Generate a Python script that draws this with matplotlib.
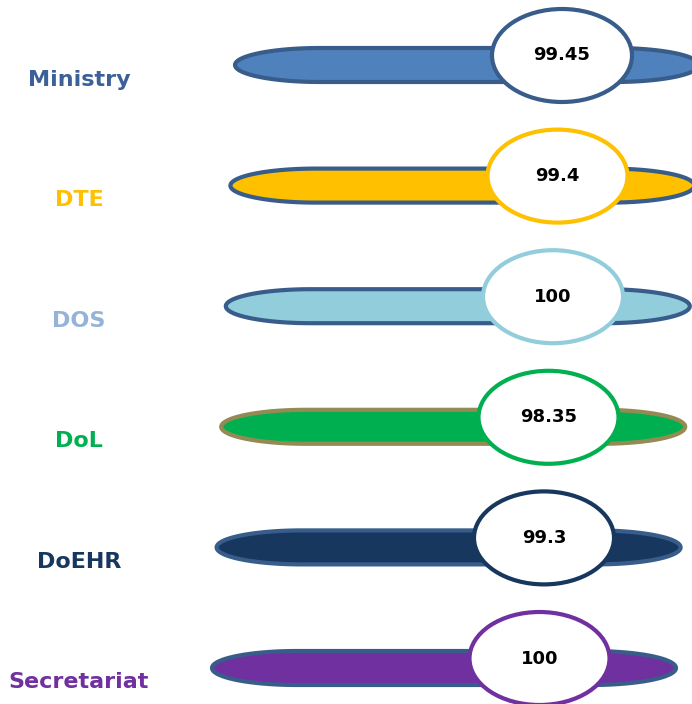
import numpy as np
import matplotlib.pyplot as plt
from matplotlib.patches import Polygon, Ellipse

# data
units = ["Ministry", "DTE", "DOS", "DoL", "DoEHR", "Secretariat"]
scores = [99.45, 99.4, 100, 98.35, 99.3, 100]
score_labels = ["99.45", "99.4", "100", "98.35", "99.3", "100"]

# styles
label_colors = ["#3B6198", "#FFC000", "#95B3D7", "#00B050", "#17375E", "#7030A0"]
bar_fills = ["#4F81BD", "#FFC000", "#92CDDC", "#00B050", "#17375E", "#7030A0"]
bar_edges = ["#385D8A", "#385D8A", "#385D8A", "#948A54", "#385D8A", "#385D8A"]
ring_colors = ["#385D8A", "#FFC000", "#92CDDC", "#00B050", "#17375E", "#7030A0"]


def pill(x0, x1, yc, hh, rx, n=60):
    """pill shape with elliptical ends"""
    t = np.linspace(np.pi / 2, 3 * np.pi / 2, n)
    left = np.column_stack([x0 + rx + rx * np.cos(t), yc - hh * np.sin(t)])
    t2 = np.linspace(-np.pi / 2, np.pi / 2, n)
    right = np.column_stack([x1 - rx + rx * np.cos(t2), yc - hh * np.sin(t2)])
    return np.vstack([left, right])


fig = plt.figure(figsize=(6.92, 7.04), dpi=100)
ax = fig.add_axes([0, 0, 1, 1])
ax.set_xlim(0, 692)
ax.set_ylim(704, 0)
ax.axis("off")

step = 120.6
for i, name in enumerate(units):
    yc = 65 + step * i
    x0 = 235 - 4.6 * i
    x1 = x0 + 464
    pts = pill(x0, x1, yc, 17, 85)
    ax.add_patch(Polygon(pts, closed=True, facecolor=bar_fills[i],
                         edgecolor=bar_edges[i], lw=3, zorder=2))
    ex = 562 - 4.5 * i
    ey = yc - 9.5
    ax.add_patch(Ellipse((ex, ey), 140, 93, facecolor="white",
                         edgecolor=ring_colors[i], lw=3, zorder=3))
    ax.text(ex, ey, score_labels[i], ha="center", va="center",
            fontsize=13, fontweight="bold", color="black", zorder=4)
    ax.text(79, 80 + 120.4 * i, name, ha="center", va="center",
            fontsize=16, fontweight="bold", color=label_colors[i])

plt.savefig("out.png", dpi=100)
